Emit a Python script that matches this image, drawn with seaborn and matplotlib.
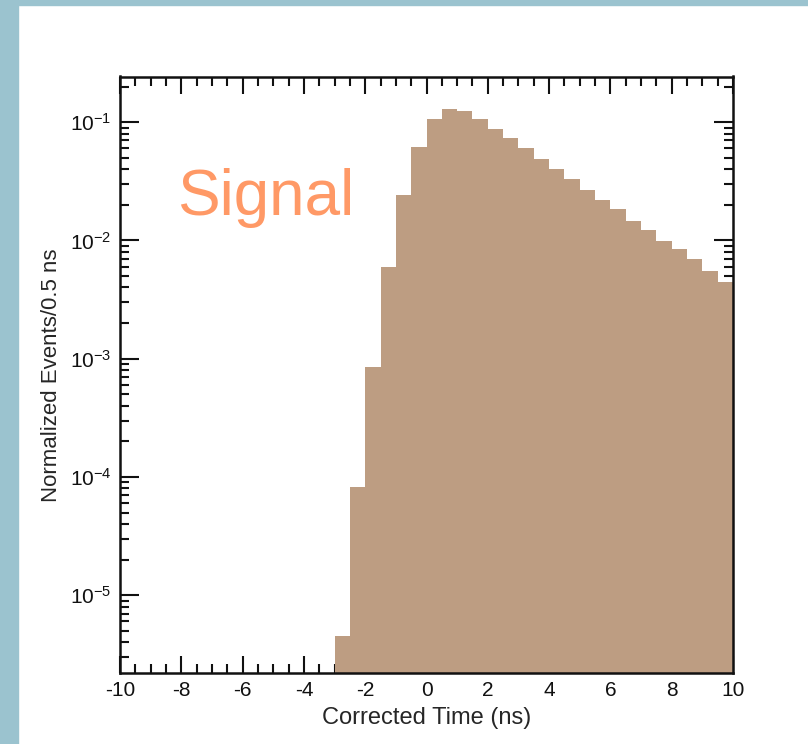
import numpy as np
import pandas as pd
import matplotlib
matplotlib.use("Agg")
import matplotlib.pyplot as plt
import seaborn as sns
from matplotlib.patches import Rectangle
from matplotlib.ticker import MultipleLocator, LogLocator

# bin edges (0.5 ns) and normalized contents
bin_lo = [-3.0, -2.5, -2.0, -1.5, -1.0, -0.5, 0.0, 0.5, 1.0, 1.5, 2.0, 2.5, 3.0,
          3.5, 4.0, 4.5, 5.0, 5.5, 6.0, 6.5, 7.0, 7.5, 8.0, 8.5, 9.0, 9.5]
counts = [4.5e-6, 8.2e-5, 8.5e-4, 6.0e-3, 0.0244, 0.0618, 0.106, 0.129, 0.123,
          0.106, 0.088, 0.073, 0.060, 0.0483, 0.040, 0.0329, 0.0266, 0.0218,
          0.0185, 0.0147, 0.0122, 0.0099, 0.0084, 0.0069, 0.0055, 0.00445]
bin_width = 0.5
x_ticks = [-10, -8, -6, -4, -2, 0, 2, 4, 6, 8, 10]

df = pd.DataFrame({"t": np.array(bin_lo) + bin_width / 2, "w": counts})
edges = [b for b in bin_lo] + [bin_lo[-1] + bin_width]

sns.set_style("white")
plt.rcParams["font.family"] = ["Liberation Sans", "DejaVu Sans"]
plt.rcParams["mathtext.fontset"] = "custom"
plt.rcParams["mathtext.rm"] = "Liberation Sans"
plt.rcParams["mathtext.it"] = "Liberation Sans"
plt.rcParams["axes.unicode_minus"] = False

fig = plt.figure(figsize=(8.08, 7.44), dpi=100)
# slide background strips
fig.patches.append(Rectangle((0, 0), 18 / 808, 1, transform=fig.transFigure,
                             color="#9bc3cf", zorder=0))
fig.patches.append(Rectangle((0, 1 - 5 / 744), 1, 5 / 744, transform=fig.transFigure,
                             color="#9bc3cf", zorder=0))

ax = fig.add_axes([120 / 808, 1 - 673 / 744, 613 / 808, 596.5 / 744])
sns.histplot(data=df, x="t", weights="w", bins=edges,
             color="#bd9d82", alpha=1, linewidth=0, ax=ax)
ax.set_yscale("log")
ax.set_xlim(-10, 10)
ax.set_ylim(2.2e-6, 0.243)

ax.set_xticks(x_ticks)
ax.xaxis.set_minor_locator(MultipleLocator(0.5))
ax.yaxis.set_major_locator(LogLocator(base=10, numticks=20))
ax.yaxis.set_minor_locator(LogLocator(base=10, subs=np.arange(2, 10), numticks=20))

ax.tick_params(which="both", direction="in", top=True, right=True, bottom=True,
               left=True, width=1.5, colors="#111111", labelsize=15)
ax.tick_params(axis="x", which="major", length=12, pad=6)
ax.tick_params(axis="y", which="major", length=14, pad=6)
ax.tick_params(which="minor", length=6.5)
for s in ax.spines.values():
    s.set_linewidth(1.8)
    s.set_color("#111111")
    s.set_visible(True)

ax.set_xlabel("Corrected Time (ns)", fontsize=17, labelpad=5)
ax.set_ylabel("Normalized Events/0.5 ns", fontsize=16, labelpad=6)

ax.text(0.093, 0.768, "Signal", transform=ax.transAxes, fontsize=46,
        color="#ff9966", va="baseline")

fig.savefig("out.png", dpi=100)
